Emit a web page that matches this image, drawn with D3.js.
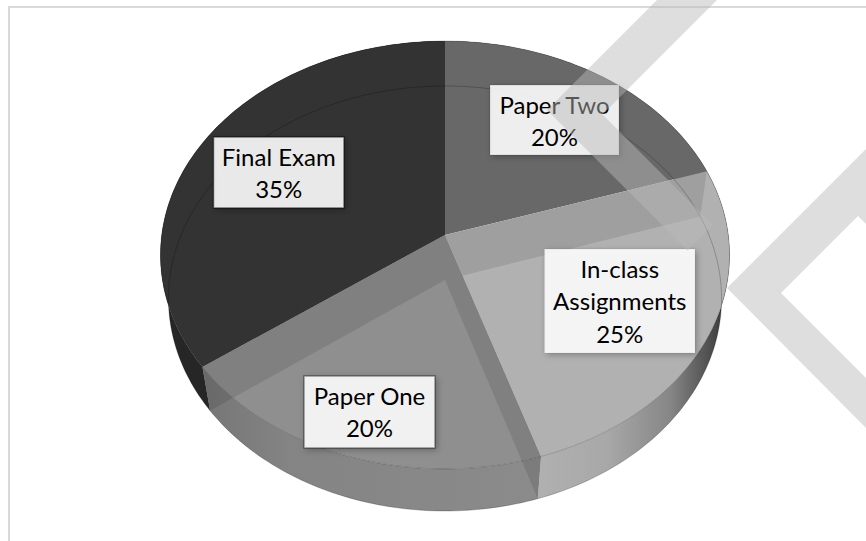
<!DOCTYPE html>
<html>
<head>
<meta charset="utf-8">
<title>Grade breakdown</title>
<script src="https://cdn.jsdelivr.net/npm/d3@7"></script>
<style>
  html, body { margin: 0; background: #fff; overflow: hidden; }
  svg { display: block; }
  text { font-family: Lato, 'Open Sans', sans-serif; font-size: 24px; fill: #000; text-anchor: middle; }
</style>
</head>
<body>
<div id="chart"></div>
<script>
const CATEGORIES = ['Paper Two', 'In-class Assignments', 'Paper One', 'Final Exam'],
      VALUES = [20, 25, 20, 35],
      LABEL_LINES = [['Paper Two'], ['In-class', 'Assignments'], ['Paper One'], ['Final Exam']],
      FACE_COLORS = ['#686868', '#b1b1b1', '#8f8f8f', '#333333'],
      WALL_FILLS = ['#5c5c5c', 'url(#wall-inclass)', 'url(#wall-paperone)', '#262626'],
      LABEL_BORDER_OPACITY = [0.08, 0.04, 0.4, 0.5]

const SIZE = Object.freeze({ WIDTH: 866, HEIGHT: 541 }),
      LINE_HEIGHT = 32.7,
      // tilted disc as seen in perspective: centre, half widths, and how much nearer the front is
      TOP_FACE = Object.freeze({ cx: 445, cy: 235, rx: 283.3, ry: 212.1, k: 0.0935 }),
      BOTTOM_FACE = Object.freeze({ cx: 445, cy: 280, rx: 275.5, ry: 210.9, k: 0.087 }),
      // label boxes in slice order: left, top, right, bottom
      LABEL_BOXES = [
        [490, 85, 619, 155],
        [544.5, 249, 695, 353],
        [304, 376, 435, 448],
        [213.5, 137, 344, 208]
      ],
      WATERMARK = [
        'M657,0 L717,0 L602.5,114.5 L713,225 L687.5,250.5 L547,110 Z',
        'M866,149 L727,288 L866,428 L866,378 L781,293 L858,216 L866,224 Z'
      ]

const project = (face, angle) => {
  const d = 1 + face.k * Math.cos(angle)
  return [
    face.cx + face.rx * Math.sin(angle) / d,
    face.cy - face.ry * Math.cos(angle) / d
  ]
}

const rim = (face, start, end) => {
  const steps = Math.max(2, Math.ceil((end - start) / 0.02))
  return d3.range(steps + 1).map(i => project(face, start + (end - start) * i / steps))
}

const line = d3.line()
const closed = (points) => line(points) + 'Z'
const apex = (face) => [face.cx, face.cy]

const addGradient = (defs, id, x1, x2, stops) => {
  const gradient = defs.append('linearGradient')
    .attr('id', id)
    .attr('gradientUnits', 'userSpaceOnUse')
    .attr('x1', x1)
    .attr('x2', x2)
    .attr('y1', 0)
    .attr('y2', 0)
  stops.forEach(([offset, color]) => gradient.append('stop').attr('offset', offset).attr('stop-color', color))
}

const buildChart = () => {
  const slices = d3.pie().sort(null).value(d => d)(VALUES)
    .map((d, i) => ({ ...d, name: CATEGORIES[i], index: i }))

  const svg = d3.select('#chart')
    .append('svg')
    .attr('width', SIZE.WIDTH)
    .attr('height', SIZE.HEIGHT)

  const defs = svg.append('defs')
  addGradient(defs, 'wall-paperone', 205, 540, [[0, '#767676'], [0.25, '#848484'], [1, '#8b8b8b']])
  addGradient(defs, 'wall-inclass', 540, 732, [[0, '#b0b0b0'], [0.35, '#a8a8a8'], [0.68, '#868686'], [0.88, '#505050'], [1, '#2e2e2e']])
  const shadow = defs.append('filter')
    .attr('id', 'label-shadow')
    .attr('x', '-15%')
    .attr('y', '-20%')
    .attr('width', '130%')
    .attr('height', '140%')
  shadow.append('feDropShadow')
    .attr('dx', 2)
    .attr('dy', 2)
    .attr('stdDeviation', 3)
    .attr('flood-color', '#000')
    .attr('flood-opacity', 0.3)

  // frame of the chart area, only top and left are inside the crop
  svg.append('path')
    .attr('d', `M9,${SIZE.HEIGHT} L9,7 L${SIZE.WIDTH},7`)
    .attr('fill', 'none')
    .attr('stroke', '#d9d9d9')
    .attr('stroke-width', 2)

  // outer walls first, the faces cover whatever is behind them
  svg.append('g').selectAll('path')
    .data(slices)
    .enter()
    .append('path')
    .attr('d', d => closed([...rim(TOP_FACE, d.startAngle, d.endAngle), ...rim(BOTTOM_FACE, d.startAngle, d.endAngle).reverse()]))
    .attr('fill', d => WALL_FILLS[d.index])

  // each face then its cut wall, in slice order, so a later face hides the earlier wall near the centre
  const faces = svg.append('g').selectAll('g')
    .data(slices)
    .enter()
    .append('g')

  faces.append('path')
    .attr('d', d => closed([apex(TOP_FACE), ...rim(TOP_FACE, d.startAngle, d.endAngle)]))
    .attr('fill', d => FACE_COLORS[d.index])

  faces.filter(d => d.index > 0)
    .append('path')
    .attr('d', d => closed([apex(TOP_FACE), project(TOP_FACE, d.startAngle), project(BOTTOM_FACE, d.startAngle), apex(BOTTOM_FACE)]))
    .attr('fill', '#000')
    .attr('fill-opacity', 0.1)

  svg.append('path')
    .attr('d', line(rim(BOTTOM_FACE, 0, 2 * Math.PI)))
    .attr('fill', 'none')
    .attr('stroke', '#000')
    .attr('stroke-opacity', 0.22)

  svg.append('path')
    .attr('d', line(rim(TOP_FACE, 0, 2 * Math.PI)))
    .attr('fill', 'none')
    .attr('stroke', '#000')
    .attr('stroke-opacity', 0.2)

  const labels = svg.append('g').selectAll('g')
    .data(slices)
    .enter()
    .append('g')

  labels.append('rect')
    .attr('x', d => LABEL_BOXES[d.index][0])
    .attr('y', d => LABEL_BOXES[d.index][1])
    .attr('width', d => LABEL_BOXES[d.index][2] - LABEL_BOXES[d.index][0])
    .attr('height', d => LABEL_BOXES[d.index][3] - LABEL_BOXES[d.index][1])
    .attr('fill', '#fff')
    .attr('fill-opacity', 0.88)
    .attr('stroke', '#000')
    .attr('stroke-opacity', d => LABEL_BORDER_OPACITY[d.index])
    .attr('stroke-width', 1.5)
    .attr('filter', 'url(#label-shadow)')

  labels.selectAll('text')
    .data(d => [...LABEL_LINES[d.index], `${d.value}%`].map((t, i) => ({ t, i, box: LABEL_BOXES[d.index] })))
    .enter()
    .append('text')
    .attr('x', d => (d.box[0] + d.box[2]) / 2)
    .attr('y', d => d.box[1] + 28.5 + d.i * LINE_HEIGHT)
    .text(d => d.t)

  // draft mark sits over everything
  svg.append('g').selectAll('path')
    .data(WATERMARK)
    .enter()
    .append('path')
    .attr('d', d => d)
    .attr('fill', 'rgb(185,185,185)')
    .attr('fill-opacity', 0.47)
}

document.addEventListener('DOMContentLoaded', buildChart)
</script>
</body>
</html>
